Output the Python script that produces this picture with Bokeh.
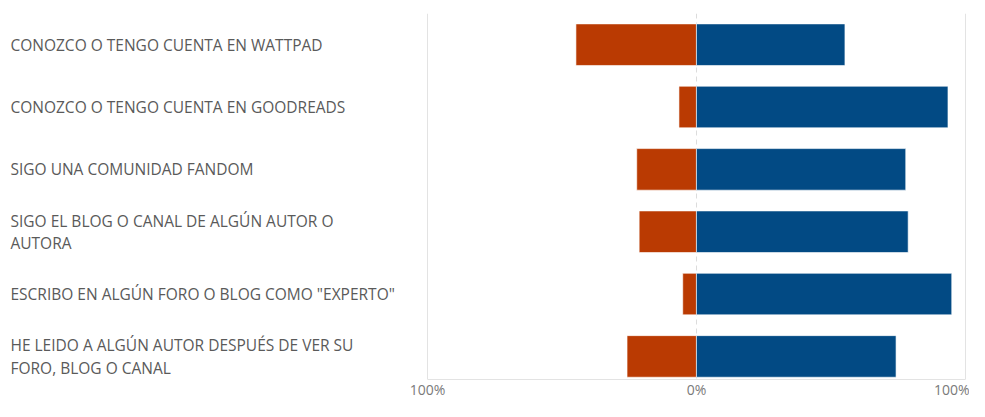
from bokeh.plotting import figure
from bokeh.models import Range1d, FixedTicker, Grid, CustomJSTickFormatter
from bokeh.core.properties import value
from bokeh.embed import file_html
from bokeh.resources import INLINE

# ---- data ----
categories = [
    "CONOZCO O TENGO CUENTA EN WATTPAD",
    "CONOZCO O TENGO CUENTA EN GOODREADS",
    "SIGO UNA COMUNIDAD FANDOM",
    "SIGO EL BLOG O CANAL DE ALGÚN AUTOR O\nAUTORA",
    "ESCRIBO EN ALGÚN FORO O BLOG COMO \"EXPERTO\"",
    "HE LEIDO A ALGÚN AUTOR DESPUÉS DE VER SU\nFORO, BLOG O CANAL",
]
no_pct = [44.8, 6.5, 22.2, 21.3, 5.1, 25.8]
yes_pct = [55.2, 93.5, 77.8, 78.7, 94.9, 74.2]
tick_values = [-1, 0, 1]

RED = "#BA3A02"
BLUE = "#024A84"

idx = list(range(len(categories)))
neg = [-v / 100 for v in no_pct]
pos = [v / 100 for v in yes_pct]

p = figure(
    width=969, height=401,
    output_backend="svg", toolbar_location=None,
    x_range=Range1d(-2.587, 1.015),
    y_range=Range1d(5.37, -0.5),
    y_axis_location=None,
    min_border_left=0, min_border_right=0,
    min_border_top=13, min_border_bottom=0,
)
p.outline_line_color = None
p.background_fill_color = "white"
p.border_fill_color = "white"

# grids
p.ygrid.visible = False
p.xgrid.ticker = FixedTicker(ticks=[-1, 1])
p.xgrid.grid_line_color = "#e3e3e3"
p.xgrid.grid_line_width = 1
zero_grid = Grid(dimension=0, ticker=FixedTicker(ticks=[0]),
                 grid_line_color="#dcdcdc", grid_line_dash="5 4", grid_line_width=1)
p.add_layout(zero_grid)

# x axis
ax = p.xaxis[0]
ax.ticker = FixedTicker(ticks=tick_values)
ax.formatter = CustomJSTickFormatter(code="return Math.round(Math.abs(tick*100)) + '%';")
ax.bounds = (-1, 1)
ax.axis_line_color = "#e3e3e3"
ax.major_tick_line_color = None
ax.minor_tick_line_color = None
ax.major_tick_out = 0
ax.major_label_standoff = 0
ax.major_label_text_color = "#7a7a7a"
ax.major_label_text_font = "Open Sans"
ax.major_label_text_font_size = "14px"

# bars
p.hbar(y=idx, left=neg, right=0, height=0.667,
       fill_color=RED, line_color="white", line_alpha=0.6, line_width=1)
p.hbar(y=idx, left=0, right=pos, height=0.667,
       fill_color=BLUE, line_color="white", line_alpha=0.6, line_width=1)

# category labels
p.text(x=-2.550, y=idx, text=categories,
       text_align="left", text_baseline="middle",
       text_font=value("Open Sans"), text_font_size="15.5px",
       text_color="#5a5a5a", text_line_height=1.02)

open("out.html", "w").write(file_html(p, INLINE))
